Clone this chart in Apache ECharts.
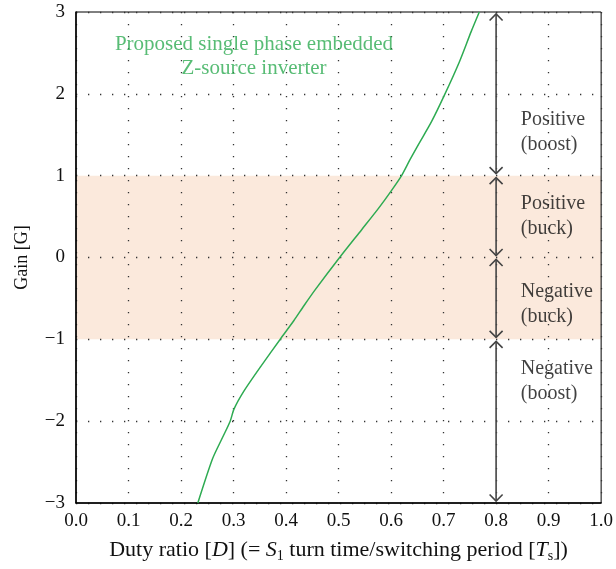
<!DOCTYPE html>
<html>
<head>
<meta charset="utf-8">
<script src="https://cdn.jsdelivr.net/npm/echarts@6/dist/echarts.min.js"></script>
<style>
  html, body { margin: 0; padding: 0; background: #fff; }
  #chart { width: 616px; height: 569px; }
</style>
</head>
<body>
<div id="chart"></div>
<script>
// Gain of the embedded Z-source inverter against duty ratio
const dutyRatio = [0.232, 0.260, 0.279, 0.2936, 0.301, 0.320, 0.352, 0.390, 0.415, 0.434, 0.456, 0.502, 0.544, 0.576, 0.601, 0.620, 0.636, 0.652, 0.677, 0.702, 0.730, 0.7525, 0.768];
const gain      = [-3.0, -2.46, -2.20, -2.0, -1.85, -1.63, -1.33, -0.99, -0.77, -0.59, -0.39, 0.0, 0.34, 0.60, 0.82, 1.0, 1.195, 1.38, 1.66, 1.99, 2.39, 2.76, 3.0];

// Buck region band (gain between -1 and 1)
const buckBand = [[-1, 1]];

// Operating-region arrows at D = 0.8: [D, from gain, to gain]
const regionArrows = [[0.8, 3, 1], [0.8, 1, 0], [0.8, 0, -1], [0.8, -1, -3]];

// Region names, anchored at [D, gain]
const regionLabels = [
  [0.847, 1.53, 'Positive\n(boost)'],
  [0.847, 0.51, 'Positive\n(buck)'],
  [0.847, -0.57, 'Negative\n(buck)'],
  [0.847, -1.51, 'Negative\n(boost)']
];
const curveTitle = [[0.339, 2.46, 'Proposed single phase embedded\nZ-source inverter']];

const xTicks = { min: 0, max: 1, interval: 0.1 };
const yTicks = { min: -3, max: 3, interval: 1 };

const serif = '"Liberation Serif", "DejaVu Serif", serif';
const green = '#2eab52';
const ink = '#111';

const chart = echarts.init(document.getElementById('chart'));
chart.setOption({
  animation: false,
  backgroundColor: '#fff',
  textStyle: { fontFamily: serif },
  grid: {
    left: 76, right: 12, top: 12, bottom: 66,
    show: true, borderColor: '#000', borderWidth: 1, backgroundColor: 'transparent'
  },
  xAxis: {
    type: 'value',
    min: xTicks.min, max: xTicks.max, interval: xTicks.interval,
    axisLine: { show: true, onZero: false, lineStyle: { color: '#000', width: 1.5 } },
    axisTick: { show: false },
    splitLine: { show: true, lineStyle: { color: '#333', width: 1.3, type: [1.3, 10.7] } },
    axisLabel: {
      color: ink, fontFamily: serif, fontSize: 19, margin: 9,
      formatter: v => v.toFixed(1)
    },
    name: 'Duty ratio [{i|D}] (= {i|S}{sub|1} turn time/switching period [{i|T}{sub|s}])',
    nameLocation: 'middle',
    nameGap: 34,
    nameTextStyle: {
      color: ink, fontFamily: serif, fontSize: 22, lineHeight: 26,
      rich: {
        i: { fontStyle: 'italic', fontFamily: serif, fontSize: 22, color: ink, lineHeight: 26 },
        sub: { fontFamily: serif, fontSize: 14, color: ink, lineHeight: 26, verticalAlign: 'bottom', padding: [7, 0, 0, 0] }
      }
    }
  },
  yAxis: {
    type: 'value',
    min: yTicks.min, max: yTicks.max, interval: yTicks.interval,
    axisLine: { show: true, onZero: false, lineStyle: { color: '#000', width: 1.5 } },
    axisTick: { show: false },
    splitLine: { show: true, lineStyle: { color: '#333', width: 1.3, type: [1.3, 10.7] } },
    axisLabel: {
      color: ink, fontFamily: serif, fontSize: 19, margin: 11,
      formatter: v => (v < 0 ? '\u2212' + Math.abs(v) : String(v))
    },
    name: 'Gain [G]',
    nameLocation: 'middle',
    nameGap: 45,
    nameTextStyle: { color: ink, fontFamily: serif, fontSize: 18 }
  },
  series: [
    {
      // shaded buck band, kept beneath the grid dots
      type: 'custom',
      z: -1,
      silent: true,
      data: buckBand,
      renderItem: (params, api) => {
        const tl = api.coord([xTicks.min, api.value(1)]);
        const br = api.coord([xTicks.max, api.value(0)]);
        return {
          type: 'rect',
          shape: { x: tl[0], y: tl[1], width: br[0] - tl[0], height: br[1] - tl[1] },
          style: { fill: '#fbe9dc' }
        };
      }
    },
    {
      type: 'line',
      data: dutyRatio.map((d, i) => [d, gain[i]]),
      showSymbol: false,
      smooth: 0.25,
      lineStyle: { color: green, width: 1.5 },
      z: 3
    },
    {
      type: 'custom',
      silent: true,
      data: regionArrows,
      z: 4,
      renderItem: (params, api) => {
        const top = api.coord([api.value(0), api.value(1)]);
        const bot = api.coord([api.value(0), api.value(2)]);
        const x = top[0];
        const y1 = top[1] + 2, y2 = bot[1] - 2;
        const h = 6.5, w = 6.5;
        const st = { stroke: '#444', lineWidth: 1.6, fill: null };
        return {
          type: 'group',
          children: [
            { type: 'line', shape: { x1: x, y1: y1, x2: x, y2: y2 }, style: st },
            { type: 'polyline', shape: { points: [[x - w, y1 + h], [x, y1], [x + w, y1 + h]] }, style: st },
            { type: 'polyline', shape: { points: [[x - w, y2 - h], [x, y2], [x + w, y2 - h]] }, style: st }
          ]
        };
      }
    },
    {
      type: 'scatter',
      silent: true,
      symbolSize: 0,
      data: regionLabels,
      z: 5,
      label: {
        show: true,
        position: 'right',
        distance: 0,
        formatter: p => p.value[2],
        color: ink, fontFamily: serif, fontSize: 20, lineHeight: 25, align: 'left'
      }
    },
    {
      type: 'scatter',
      silent: true,
      symbolSize: 0,
      data: curveTitle,
      z: 5,
      label: {
        show: true,
        position: 'inside',
        formatter: p => p.value[2],
        color: green, fontFamily: serif, fontSize: 21, lineHeight: 24, align: 'center'
      }
    }
  ]
});
</script>
</body>
</html>
